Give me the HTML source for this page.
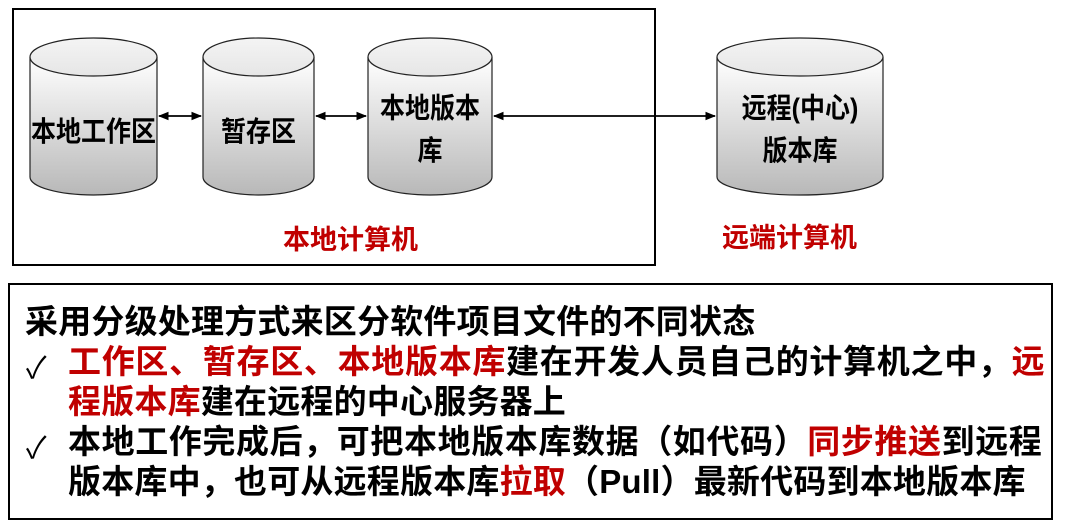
<!DOCTYPE html>
<html><head><meta charset="utf-8"><style>
body{margin:0;width:1065px;height:523px;background:#fff;overflow:hidden;position:relative;font-family:"Liberation Sans","Noto Sans CJK SC",sans-serif;font-weight:bold}
.ln{position:absolute;white-space:nowrap;font-size:33px;line-height:40px;color:#000;letter-spacing:0.2px}
.r{color:#c00000}
.ck{position:absolute;font-size:30px;font-weight:normal;color:#000}
.c{position:absolute;text-align:center;font-size:25px;transform:scaleY(1.12)}
</style></head><body>
<svg width="1065" height="523" style="position:absolute;left:0;top:0">
<defs>
<linearGradient id="g" x1="0" y1="0" x2="0" y2="1"><stop offset="0" stop-color="#ffffff"/><stop offset="1" stop-color="#b8b8b8"/></linearGradient>
<linearGradient id="gt" x1="0" y1="0" x2="0" y2="1"><stop offset="0" stop-color="#f4f4f4"/><stop offset="1" stop-color="#e6e6e6"/></linearGradient>
<marker id="a" viewBox="0 0 10 10" refX="9" refY="5" markerWidth="6" markerHeight="6" orient="auto-start-reverse"><path d="M0,1 L10,5 L0,9 z" fill="#000"/></marker>
</defs>
<rect x="13" y="9" width="642" height="256" fill="none" stroke="#000" stroke-width="2"/>
<rect x="9" y="284" width="1043" height="235" fill="none" stroke="#000" stroke-width="2"/>
<g stroke="#222" stroke-width="1.2">
<path d="M30,57 v120 a63.5,18 0 0 0 127,0 v-120" fill="url(#g)"/><ellipse cx="93.5" cy="57" rx="63.5" ry="19" fill="url(#gt)"/>
<path d="M203,57 v120 a55.5,18 0 0 0 111,0 v-120" fill="url(#g)"/><ellipse cx="258.5" cy="57" rx="55.5" ry="19" fill="url(#gt)"/>
<path d="M368,57 v120 a62,18 0 0 0 124,0 v-120" fill="url(#g)"/><ellipse cx="430" cy="57" rx="62" ry="19" fill="url(#gt)"/>
<path d="M717,57 v120 a83,18 0 0 0 166,0 v-120" fill="url(#g)"/><ellipse cx="800" cy="57" rx="83" ry="19" fill="url(#gt)"/>
</g>
<g stroke="#000" stroke-width="1.8">
<line x1="159" y1="116" x2="201" y2="116" marker-start="url(#a)" marker-end="url(#a)"/>
<line x1="316" y1="116" x2="366" y2="116" marker-start="url(#a)" marker-end="url(#a)"/>
<line x1="494" y1="116" x2="715" y2="116" marker-start="url(#a)" marker-end="url(#a)"/>
</g>
</svg>
<div class="c" style="left:30px;width:127px;top:112px">本地工作区</div>
<div class="c" style="left:203px;width:111px;top:112px">暂存区</div>
<div class="c" style="left:368px;width:124px;top:92px;line-height:38px">本地版本<br>库</div>
<div class="c" style="left:717px;width:166px;top:92px;line-height:38px">远程(中心)<br>版本库</div>
<div style="position:absolute;left:283px;top:218px;font-size:27px;color:#c00000">本地计算机</div>
<div style="position:absolute;left:722px;top:216px;font-size:27px;color:#c00000">远端计算机</div>
<div class="ln" style="left:25px;top:302px">采用分级处理方式来区分软件项目文件的不同状态</div>
<div class="ck r" style="left:26px;top:343px">✓</div>
<div class="ln" style="left:68px;top:342px;letter-spacing:0.7px"><span class="r">工作区、暂存区、本地版本库</span>建在开发人员自己的计算机之中，<span class="r">远</span></div>
<div class="ln" style="left:68px;top:382px"><span class="r">程版本库</span>建在远程的中心服务器上</div>
<div class="ck" style="left:26px;top:423px">✓</div>
<div class="ln" style="left:68px;top:422px;letter-spacing:0.6px">本地工作完成后，可把本地版本库数据（如代码）<span class="r">同步推送</span>到远程</div>
<div class="ln" style="left:68px;top:462px">版本库中，也可从远程版本库<span class="r">拉取</span>（Pull）最新代码到本地版本库</div>
</body></html>
